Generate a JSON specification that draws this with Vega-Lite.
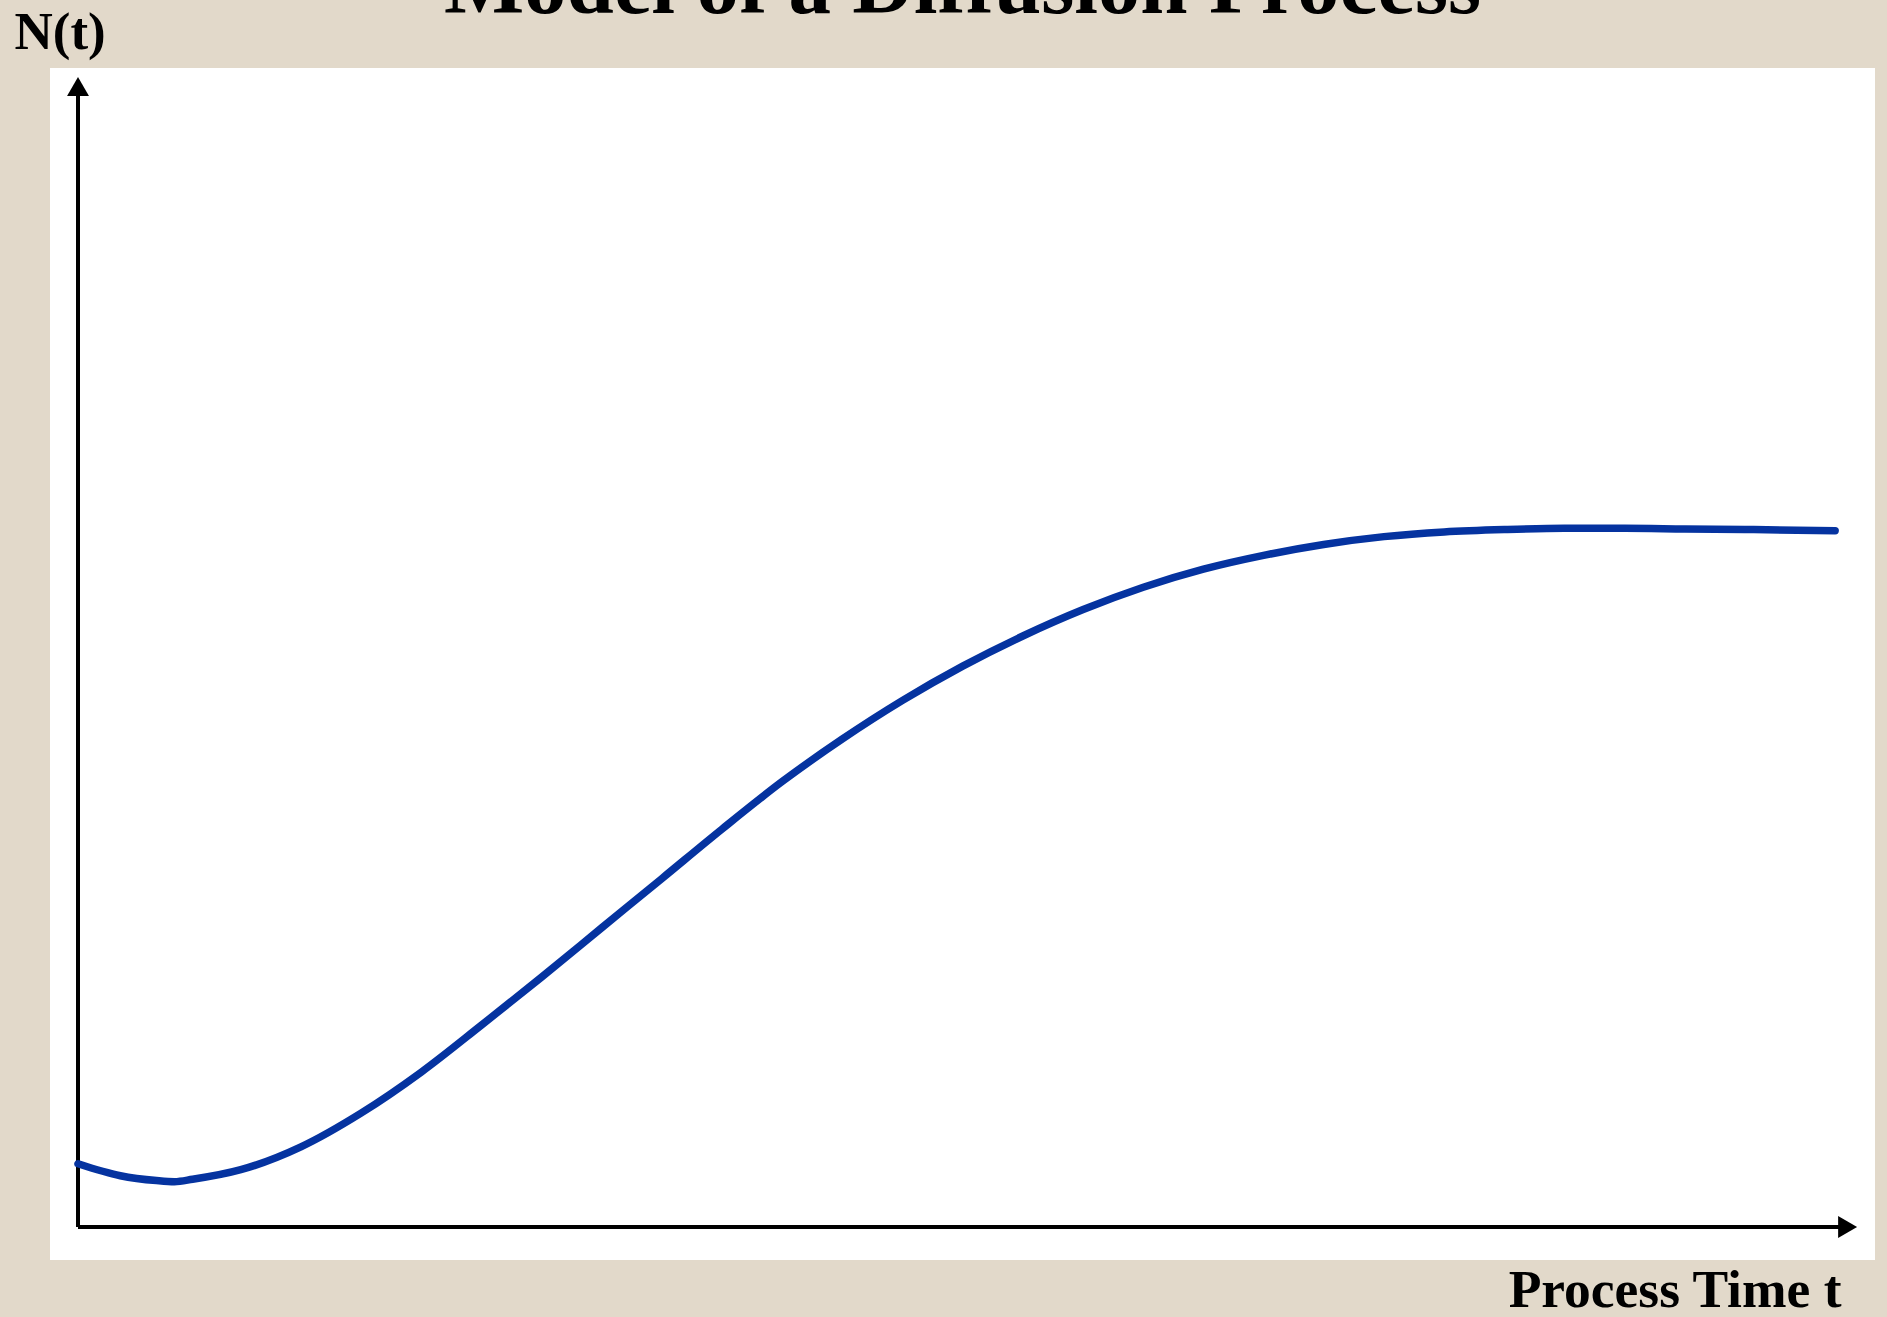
{
  "$schema": "https://vega.github.io/schema/vega-lite/v6.json",
  "width": 1825,
  "height": 1192,
  "autosize": {"type": "none"},
  "padding": {"left": 50, "top": 68, "right": 12, "bottom": 57},
  "background": "#e2d9ca",
  "config": {"view": {"fill": "white", "stroke": null}, "font": "Liberation Serif"},
  "title": {
    "text": "Model of a Diffusion Process",
    "font": "Liberation Serif",
    "fontSize": 85,
    "fontWeight": "bold",
    "color": "black",
    "anchor": "middle",
    "frame": "group",
    "baseline": "alphabetic",
    "offset": 0,
    "dy": 92
  },
  "datasets": {
    "curve": [
      {"t": 0, "N": 5.5},
      {"t": 2.38, "N": 4.46},
      {"t": 4.41, "N": 4.04},
      {"t": 5.42, "N": 3.94},
      {"t": 6.44, "N": 4.15},
      {"t": 9.15, "N": 4.98},
      {"t": 12.53, "N": 6.97},
      {"t": 15.91, "N": 9.9},
      {"t": 19.29, "N": 13.46},
      {"t": 22.67, "N": 17.54},
      {"t": 26.05, "N": 21.72},
      {"t": 29.44, "N": 26.02},
      {"t": 32.82, "N": 30.3},
      {"t": 36.2, "N": 34.6},
      {"t": 39.58, "N": 38.73},
      {"t": 42.97, "N": 42.44},
      {"t": 46.35, "N": 45.79},
      {"t": 49.73, "N": 48.77},
      {"t": 53.11, "N": 51.39},
      {"t": 56.5, "N": 53.69},
      {"t": 59.88, "N": 55.63},
      {"t": 63.26, "N": 57.2},
      {"t": 66.64, "N": 58.4},
      {"t": 70.02, "N": 59.35},
      {"t": 73.41, "N": 60.03},
      {"t": 76.79, "N": 60.44},
      {"t": 80.17, "N": 60.65},
      {"t": 83.55, "N": 60.76},
      {"t": 86.94, "N": 60.76},
      {"t": 90.32, "N": 60.7},
      {"t": 93.7, "N": 60.65},
      {"t": 98.77, "N": 60.55}
    ],
    "axes": [
      {"axis": "x", "t": 0, "t2": 99.47, "N": 0, "N2": 0},
      {"axis": "y", "t": 0, "t2": 0, "N": 0, "N2": 99.17}
    ],
    "arrows": [
      {"axis": "x", "t": 99.47, "N": 0},
      {"axis": "y", "t": 0, "N": 99.17}
    ]
  },
  "encoding": {
    "x": {
      "field": "t",
      "type": "quantitative",
      "scale": {"domain": [-1.574, 101.01], "nice": false, "zero": false},
      "axis": {
        "domain": false,
        "ticks": false,
        "labels": false,
        "grid": false,
        "title": "Process Time t",
        "titleFont": "Liberation Serif",
        "titleFontSize": 53.5,
        "titleFontWeight": "bold",
        "titleColor": "black",
        "titleAlign": "right",
        "titleBaseline": "alphabetic",
        "titleX": 1791,
        "titleY": 46
      }
    },
    "y": {
      "field": "N",
      "type": "quantitative",
      "scale": {"domain": [-2.87, 100.78], "nice": false, "zero": false},
      "axis": {
        "domain": false,
        "ticks": false,
        "labels": false,
        "grid": false,
        "title": "N(t)",
        "titleFont": "Liberation Serif",
        "titleFontSize": 53,
        "titleFontWeight": "bold",
        "titleColor": "black",
        "titleAngle": 0,
        "titleAlign": "left",
        "titleBaseline": "alphabetic",
        "titleX": -36,
        "titleY": -20
      }
    }
  },
  "layer": [
    {
      "data": {"name": "axes"},
      "mark": {"type": "rule", "color": "black", "strokeWidth": 4},
      "encoding": {
        "x2": {"field": "t2"},
        "y2": {"field": "N2"}
      }
    },
    {
      "data": {"name": "arrows"},
      "mark": {"type": "point", "filled": true, "color": "black", "opacity": 1, "size": 480},
      "encoding": {
        "shape": {
          "field": "axis",
          "type": "nominal",
          "scale": {"domain": ["x", "y"], "range": ["triangle-right", "triangle-up"]},
          "legend": null
        }
      }
    },
    {
      "data": {"name": "curve"},
      "mark": {"type": "line", "color": "#0533a0", "strokeWidth": 7.5, "interpolate": "monotone", "strokeCap": "round"}
    }
  ]
}
